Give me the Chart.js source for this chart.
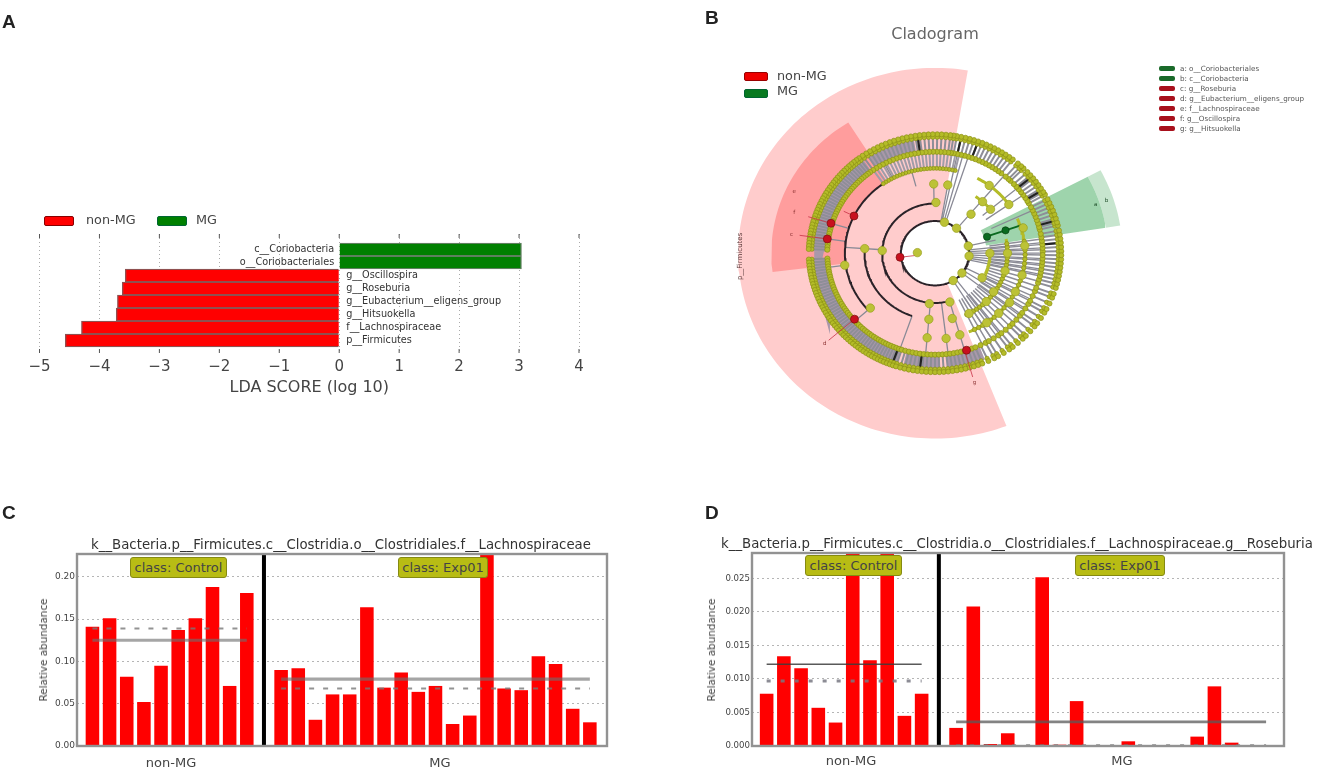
<!DOCTYPE html>
<html><head><meta charset="utf-8">
<script src="https://cdn.jsdelivr.net/npm/chart.js@4"></script>
<style>
html,body{margin:0;padding:0;background:#fff;width:1326px;height:781px;overflow:hidden}
#wrap{position:relative;width:1326px;height:781px;filter:blur(0.65px);font-family:"DejaVu Sans",sans-serif;color:#333}
canvas{position:absolute}
.t{position:absolute;white-space:nowrap;line-height:1}
.letter{font:bold 19px "Liberation Sans",sans-serif;color:#222}
.sw{position:absolute;border-radius:2px;box-sizing:border-box}
.box{position:absolute;box-sizing:border-box;background:#b8bc14;border:1px solid #858a12;border-radius:3px;color:#444;font-size:13px;display:flex;align-items:center;justify-content:center;height:21px}
.ylab{position:absolute;font-size:10.4px;color:#444;transform:translate(-50%,-50%) rotate(-90deg);white-space:nowrap}
.ctr{transform:translateX(-50%)}
</style></head><body>
<div id="wrap">
<canvas id="a" width="620" height="178" style="left:0;top:225px;width:620px;height:178px"></canvas>
<canvas id="b" width="430" height="400" style="left:720px;top:50px;width:430px;height:400px"></canvas>
<canvas id="c" width="575" height="200" style="left:40px;top:550px;width:575px;height:200px"></canvas>
<canvas id="d" width="580" height="201" style="left:712px;top:549px;width:580px;height:201px"></canvas>

<div class="t letter" style="left:2px;top:11px">A</div>
<div class="t letter" style="left:705px;top:7px">B</div>
<div class="t letter" style="left:2px;top:502px">C</div>
<div class="t letter" style="left:705px;top:502px">D</div>

<div class="sw" style="left:44px;top:216px;width:30px;height:10px;background:#f00;border:1px solid #800"></div>
<div class="t" style="left:86px;top:214px;font-size:12.8px;color:#444">non-MG</div>
<div class="sw" style="left:157px;top:216px;width:30px;height:10px;background:#008000;border:1px solid #063"></div>
<div class="t" style="left:196px;top:214px;font-size:12.8px;color:#444">MG</div>

<div class="t ctr" style="left:935px;top:26px;font-size:16px;color:#666">Cladogram</div>
<div class="sw" style="left:744px;top:72px;width:24px;height:9px;background:#e00;border:1px solid #900"></div>
<div class="t" style="left:777px;top:70px;font-size:12.8px;color:#444">non-MG</div>
<div class="sw" style="left:744px;top:89px;width:24px;height:9px;background:#087a20;border:1px solid #063"></div>
<div class="t" style="left:777px;top:85px;font-size:12.8px;color:#444">MG</div>

<div id="cladoKey"></div>

<div class="t ctr" style="left:341px;top:538px;font-size:13.3px;color:#333">k__Bacteria.p__Firmicutes.c__Clostridia.o__Clostridiales.f__Lachnospiraceae</div>
<div class="box" style="left:130px;top:557px;width:97px">class: Control</div>
<div class="box" style="left:398px;top:557px;width:90px">class: Exp01</div>
<div class="ylab" style="left:43px;top:650px">Relative abundance</div>
<div class="t ctr" style="left:171px;top:756px;font-size:13px;color:#444">non-MG</div>
<div class="t ctr" style="left:440px;top:756px;font-size:13px;color:#444">MG</div>

<div class="t ctr" style="left:1017px;top:537px;font-size:13.3px;color:#333">k__Bacteria.p__Firmicutes.c__Clostridia.o__Clostridiales.f__Lachnospiraceae.g__Roseburia</div>
<div class="box" style="left:805px;top:555px;width:97px">class: Control</div>
<div class="box" style="left:1075px;top:555px;width:90px">class: Exp01</div>
<div class="ylab" style="left:711px;top:650px">Relative abundance</div>
<div class="t ctr" style="left:851px;top:754px;font-size:13px;color:#444">non-MG</div>
<div class="t ctr" style="left:1122px;top:754px;font-size:13px;color:#444">MG</div>
</div>
<script>
/* ---------- Panel A data ---------- */
const ldaTaxa = ["c__Coriobacteria","o__Coriobacteriales","g__Oscillospira","g__Roseburia","g__Eubacterium__eligens_group","g__Hitsuokella","f__Lachnospiraceae","p__Firmicutes"];
const ldaScores = [3.04,3.04,-3.57,-3.62,-3.70,-3.72,-4.30,-4.57];
const ldaTicks = [-5,-4,-3,-2,-1,0,1,2,3,4];

/* ---------- Panel C data ---------- */
const cNonMG = [0.141,0.151,0.082,0.052,0.095,0.137,0.151,0.188,0.071,0.181];
const cMG = [0.090,0.092,0.031,0.061,0.061,0.164,0.069,0.087,0.064,0.071,0.026,0.036,0.235,0.068,0.066,0.106,0.097,0.044,0.028];
const cMeans = [0.125,0.079];
const cMedians = [0.139,0.068];

/* ---------- Panel D data ---------- */
const dNonMG = [0.0078,0.0134,0.0116,0.0057,0.0035,0.0300,0.0128,0.0300,0.0045,0.0078];
const dMG = [0.0027,0.0208,0.0003,0.0019,0.0001,0.0252,0.0002,0.0067,0.0001,0.0001,0.0007,0.0001,0.0001,0.0001,0.0014,0.0089,0.0005,0.0001,0.0001];
const dMeans = [0.0122,0.0036];
const dMedians = [0.0097,0.0001];

/* ---------- Panel B data: angle in degrees, radius in tree units ---------- */
const cladoKeyLabels = ["a: o__Coriobacteriales","b: c__Coriobacteria","c: g__Roseburia","d: g__Eubacterium__eligens_group","e: f__Lachnospiraceae","f: g__Oscillospira","g: g__Hitsuokella"];
const cladoKeyClasses = ["MG","MG","non-MG","non-MG","non-MG","non-MG","non-MG"];
/* [from angle, to angle, inner radius, outer radius] */
const sectorDark = [122,187,87,158];
const sectorPhylum = [80.4,291.3,33,190];
const sectorClassGreen = [9,28,50,167];
const sectorOrderGreen = [9,28,167,181];
/* [radius, from, to] */
const treeArcs = [[33,-40,75],[33,75,320],[51,89,285],[68,176,251],[87,121,222],[33,-40,15]];
const oliveArcs = [[53,-24,-2],[70,-62,12],[87,-68,24],[70,40,56],[87,34,62]];
const spokeAngles = [1,3,5,7,9,11,13.5,15,17,19,21,23,25,27,29.5,31,33,35,37,39,41,43,45.5,47,49,52,54,56,58,60,62,64,66,68,70,72,74,76,78,80,81.5,83,85,87,89,91,93,95,97,99,101,103,105,107,109,111,113,115,117,119,121,123,125,
127,128.5,130,131.5,133,134.5,136,137.5,139,140.5,142,143.5,145,146.5,148,149.5,151,152.5,154,155.5,157,158.5,160,161.5,163,164.5,166,167.5,169,170.5,172,173.5,175,176.5,178,183,184.5,186,187.5,189,190.5,192,193.5,195,196.5,198,199.5,201,202.5,204,205.5,207,208.5,210,211.5,213,214.5,216,217.5,219,220.5,222,223.5,225,226.5,228,229.5,231,232.5,234,235.5,237,238.5,240,241.5,243,244.5,246,247.5,249,250.5,252,254,256,258,260,262,264,266,268,270,272,274,276,278,280,282,284,286,288,290,292,
295,298,300,303,306,308,311,314,316,319,322,324,327,330,332,335,338,340,343,345,347,349,351,353,355,357,359];
/* leaves of the inner band along the top and of the lower-right fan */
const upperBandAngles = [77,79,81,83,85,87,89,91,93,95,97,99,101,103,105,107,109,111,113,115,117,119,121,123,125];
const fanAngles = [-64,-61,-58,-55,-52,-49,-46,-43,-40,-37,-34,-31,-28,-25,-22,-19,-16,-13,-10,-7,-4,-1,2,5,8];
const bandArcs = [[100,123],[126,179],[183,252],[255,272],[276,294]];
const darkSpokes = [98,78,70,40,32,16,5,263,250];
/* [angle, inner radius, outer radius] */
const branchLines = [[72,33,104],[75,33,104],[78,33,104],[50,33,104],[91,51,71],[80,33,71],[13,33,60],[-12,33,104],[-9,33,104],[-6,33,104],[-3,33,104],[0,33,104],[3,33,104],[6,33,104],[-27,33,104],[-33,33,104],[-38,33,104],[-53,33,104],[-58,33,104],[-74,51,104],[-83,51,104],[265,51,104],[251,68,104],[176,51,87],[222,87,104],[163,87,105],[172,87,105],[105,71,104],[118,87,104],[188,87,104],[25,60,104],[35,60,104],[40,60,104]];
const redLines = [[187,33,17],[154,87,98],[163,105,128],[172,105,132],[221,103,136],[-74,104,132]];
/* [angle, radius] */
const branchNodes = [[178,17],[177,51],[176,68],[89,52],[91,71],[80,71],[49,53],[49,70],[53,87],[74,33],[51,33],[13,33],[-5,33],[-38,33],[-58,33],[-74,52],[264,52],[265,68],[265,87],[-76,69],[-83,88],[-74,87],[-29,52],[-35,69],[-27,87],[-35,88],[0,53],[0,70],[17,89],[222,84],[188,88],[-15,70],[-45,70],[-55,87],[-45,87],[-15,87],[5,87],[40,70],[35,87],[-62,70]];
const redNodes = [[187,34],[154,87],[163,105],[172,105],[221,103],[-73,104]];
const greenNodes = [[18.6,53],[19,72]];
const greenBranch = [19,50,90];
const cladoLetters = [["a",18,163],["b",18,174],["e",155,150],["f",163,142],["c",172,140],["d",221,141],["g",-74,138]];
const phylumLabel = ["p__Firmicutes",181,188];

/* ---------- colours ---------- */
const RED="#ff0000", GREEN="#008000";
Chart.defaults.animation=false;
Chart.defaults.responsive=false;
Chart.defaults.font.family='"DejaVu Sans",sans-serif';
Chart.defaults.plugins.legend.display=false;
Chart.defaults.plugins.tooltip.enabled=false;

/* ---------- key of panel B ---------- */
const keyHost=document.getElementById("cladoKey");
cladoKeyLabels.forEach((txt,i)=>{
  const s=document.createElement("div");s.className="sw";
  s.style.cssText=`left:1159px;top:${65.5+i*10}px;width:16px;height:5px;background:${cladoKeyClasses[i]==="MG"?"#1a6a2a":"#a8101c"}`;
  const t=document.createElement("div");t.className="t";t.textContent=txt;
  t.style.cssText=`left:1180px;top:${64.5+i*10}px;font-size:7.2px;color:#555`;
  keyHost.append(s,t);
});

/* ---------- Panel A ---------- */
const ldaPoints=ldaScores.map((v,i)=>({x:v,y:i}));
new Chart(document.getElementById("a"),{
  type:"bar",
  data:{datasets:[{data:ldaPoints,
    backgroundColor:ldaScores.map(v=>v>0?GREEN:RED),
    borderColor:ldaScores.map(v=>v>0?"#5f7f5f":"#8f5050"),
    borderWidth:1.4,barPercentage:1,categoryPercentage:1}]},
  options:{indexAxis:"y",layout:{padding:{left:39.5,right:41,top:9,bottom:0}},
    scales:{
      y:{type:"linear",reverse:true,min:-1.19,max:7.96,display:false,offset:false,grid:{display:false,offset:false}},
      x:{type:"linear",min:-5,max:4,position:"bottom",
        afterFit:s=>{s.height=50},
        afterBuildTicks:s=>{s.ticks=ldaTicks.map(v=>({value:v}))},
        ticks:{font:{size:15},color:"#444",padding:5,maxRotation:0,callback:v=>String(v).replace("-","\u2212")},
        grid:{color:"#aaa",drawTicks:false},border:{display:false,dash:[1,3]},
        title:{display:true,text:"LDA SCORE (log 10)",font:{size:16},color:"#444",padding:{top:0,bottom:6}}}
    }},
  plugins:[{id:"aExtras",afterDatasetsDraw(ch){
    const c=ch.ctx,{x,y}=ch.scales,area=ch.chartArea;
    c.save();
    c.strokeStyle="#555";c.lineWidth=1;
    ldaTicks.forEach(v=>{const p=x.getPixelForValue(v);
      c.beginPath();c.moveTo(p,area.top);c.lineTo(p,area.top+4);c.moveTo(p,area.bottom-4);c.lineTo(p,area.bottom);c.stroke();});
    c.font='9.7px "DejaVu Sans"';c.fillStyle="#333";c.textBaseline="middle";
    ldaTaxa.forEach((n,i)=>{const py=y.getPixelForValue(i),v=ldaScores[i];
      c.textAlign=v>0?"right":"left";
      c.fillText(n,x.getPixelForValue(0)+(v>0?-5:7),py);});
    c.restore();}}]
});

/* ---------- Panels C and D ---------- */
function abundance(id,nonMG,mg,means,medians,opt){
  const first=nonMG.map((v,i)=>({x:i,y:v}));
  const sepIndex=nonMG.length;
  const second=mg.map((v,i)=>({x:sepIndex+1+i,y:v}));
  const lastA=nonMG.length-1,firstB=sepIndex+1,lastB=sepIndex+mg.length;
  const line=(a,b,v,style)=>Object.assign({type:"line",data:[{x:a,y:v},{x:b,y:v}],pointRadius:0,order:1,fill:false},style);
  new Chart(document.getElementById(id),{
    type:"bar",
    data:{datasets:[
      {type:"line",data:[{x:sepIndex,y:0},{x:sepIndex,y:opt.yMax}],borderColor:"#000",borderWidth:4,pointRadius:0,order:0},
      line(0,lastA,means[0],opt.solidA),
      line(0,lastA,medians[0],opt.dashA),
      line(firstB,lastB,means[1],opt.solidB),
      line(firstB,lastB,medians[1],opt.dashB),
      {data:first.concat(second),backgroundColor:RED,borderWidth:0,barPercentage:0.79,categoryPercentage:1,order:2}
    ]},
    options:{layout:{padding:{left:0,right:opt.right,top:4,bottom:4}},
      scales:{
        x:{type:"linear",min:opt.xMin,max:opt.xMax,display:false,offset:false,grid:{display:false,offset:false}},
        y:{min:0,max:opt.yMax,afterFit:s=>{s.width=opt.leftW;s.paddingTop=0;s.paddingBottom=0},
          ticks:{stepSize:opt.step,includeBounds:false,padding:2,font:{size:opt.tickSize},color:"#444",callback:v=>Number(v).toFixed(opt.dec)},
          grid:{color:"#b5b5b5",drawTicks:false},border:{display:false,dash:[2,3]}}
      }},
    plugins:[{id:"frame",afterDraw(ch){const c=ch.ctx,a=ch.chartArea;c.save();c.strokeStyle="#929292";c.lineWidth=2.4;c.strokeRect(a.left,a.top,a.right-a.left,a.bottom-a.top);c.restore();}}]
  });
}
const thickSolid={borderColor:"rgba(110,110,110,.62)",borderWidth:3.2};
const greyDash={borderColor:"rgba(120,120,120,.8)",borderWidth:2,borderDash:[5,9]};
abundance("c",cNonMG,cMG,cMeans,cMedians,{yMax:0.227,step:0.05,dec:2,xMin:-0.9,xMax:30.0,leftW:37,right:8,tickSize:9,
  solidA:thickSolid,solidB:thickSolid,dashA:greyDash,dashB:greyDash});
abundance("d",dNonMG,dMG,dMeans,dMedians,{yMax:0.0288,step:0.005,dec:3,xMin:-0.85,xMax:30.04,leftW:40,right:8,tickSize:8.6,
  solidA:{borderColor:"rgba(60,60,60,.85)",borderWidth:1.4},solidB:{borderColor:"rgba(90,90,90,.75)",borderWidth:2.6},
  dashA:{borderColor:"rgba(120,120,130,.85)",borderWidth:3,borderDash:[4,10]},dashB:{borderColor:"rgba(110,110,110,.8)",borderWidth:2.2,borderDash:[4,10]}});

/* ---------- Panel B ---------- */
const polar=(a,r)=>({x:r*Math.cos(a*Math.PI/180),y:r*Math.sin(a*Math.PI/180)});
const GAP={x:NaN,y:NaN};
function arcPts(r,from,to){const n=Math.max(2,Math.ceil(Math.abs(to-from)/1.5)),p=[];
  for(let i=0;i<=n;i++)p.push(polar(from+(to-from)*i/n,r));return p;}
function sector(s){const [f,t,ri,ro]=s;const p=arcPts(ro,f,t).concat(arcPts(ri,t,f));p.push(p[0]);return p;}
function many(list){const out=[];list.forEach(seg=>{out.push(...seg,GAP)});return out;}
const spoke=(a,r1,r2)=>[polar(a,r1),polar(a,r2)];
const lineDs=(data,color,w,extra)=>Object.assign({data,showLine:true,pointRadius:0,borderColor:color,borderWidth:w,spanGaps:false,fill:false},extra||{});
const nodeDs=(pts,bg,bd,r)=>({data:pts,showLine:false,pointRadius:r,pointBackgroundColor:bg,pointBorderColor:bd,pointBorderWidth:0.7});
const sectorDs=(s,col)=>({data:sector(s),showLine:true,pointRadius:0,borderWidth:0,borderColor:col,backgroundColor:col,fill:"shape"});

new Chart(document.getElementById("b"),{
  type:"scatter",
  data:{datasets:[
    nodeDs(redNodes.map(n=>polar(n[0],n[1])),"#c8101e","#7a1010",4),
    nodeDs(greenNodes.map(n=>polar(n[0],n[1])),"#0a6a20","#064010",3.6),
    nodeDs(branchNodes.map(n=>polar(n[0],n[1])),"#bcc236","#9aa020",4.2),
    lineDs(many(redLines.map(l=>spoke(l[0],l[1],l[2]))),"rgba(200,50,70,.8)",1),
    lineDs(many([spoke(greenBranch[0],greenBranch[1],greenBranch[2])]),"#0a6a20",2),
    nodeDs(spokeAngles.map(a=>polar(a,122)),"#b4bc28","#8c9016",2.5),
    nodeDs(spokeAngles.map(a=>polar(a,119)),"#b4bc28","#8c9016",2.2),
    nodeDs(spokeAngles.map(a=>polar(a,104)),"#b4bc28","#8c9016",2.6),
    nodeDs(upperBandAngles.map(a=>polar(a,87)),"#b4bc28","#8c9016",2),
    nodeDs(fanAngles.map(a=>polar(a,70)),"#b4bc28","#8c9016",2.2),
    nodeDs(fanAngles.map(a=>polar(a,87)),"#b4bc28","#8c9016",2.2),
    lineDs(many(treeArcs.map(a=>arcPts(a[0],a[1],a[2]))),"#2a2228",2),
    lineDs(many(oliveArcs.map(a=>arcPts(a[0],a[1],a[2]))),"#b4bc28",3),
    lineDs(many(darkSpokes.map(a=>spoke(a,105,119))),"#222",2.2),
    lineDs(many(spokeAngles.map(a=>spoke(a,104,120))),"#8e8e98",2),
    lineDs(many(upperBandAngles.map(a=>spoke(a,87,103))),"#a09ca8",2),
    lineDs(many(fanAngles.map(a=>spoke(a,53,104))),"#8e8e98",1.5),
    lineDs(many(branchLines.map(l=>spoke(l[0],l[1],l[2]))),"#8a8a96",1.3),
    lineDs(many(bandArcs.map(b=>arcPts(112,b[0],b[1]))),"#a998aa",14),
    sectorDs(sectorDark,"#ff9d9d"),
    sectorDs(sectorClassGreen,"rgba(120,195,140,.72)"),
    sectorDs(sectorOrderGreen,"rgba(180,220,190,.75)"),
    sectorDs(sectorPhylum,"#ffcccc")
  ]},
  options:{layout:{padding:0},
    scales:{x:{type:"linear",display:false,min:-202.83,max:202.83},
            y:{type:"linear",display:false,min:-196.7,max:203.3}},
    elements:{line:{tension:0}}},
  plugins:[{id:"bText",afterDatasetsDraw(ch){
    const c=ch.ctx,{x,y}=ch.scales;
    c.save();c.textAlign="center";c.textBaseline="middle";c.font='5.5px "DejaVu Sans"';
    cladoLetters.forEach(l=>{const p=polar(l[1],l[2]);c.fillStyle=(l[0]==="a"||l[0]==="b")?"#1b4a25":"#8a3030";c.fillText(l[0],x.getPixelForValue(p.x),y.getPixelForValue(p.y));});
    const p=polar(phylumLabel[1],phylumLabel[2]);
    c.translate(x.getPixelForValue(p.x),y.getPixelForValue(p.y));c.rotate(-Math.PI/2);
    c.font='7px "DejaVu Sans"';c.fillStyle="#5a3a3a";c.fillText(phylumLabel[0],0,0);c.restore();}}]
});
</script>
</body></html>
